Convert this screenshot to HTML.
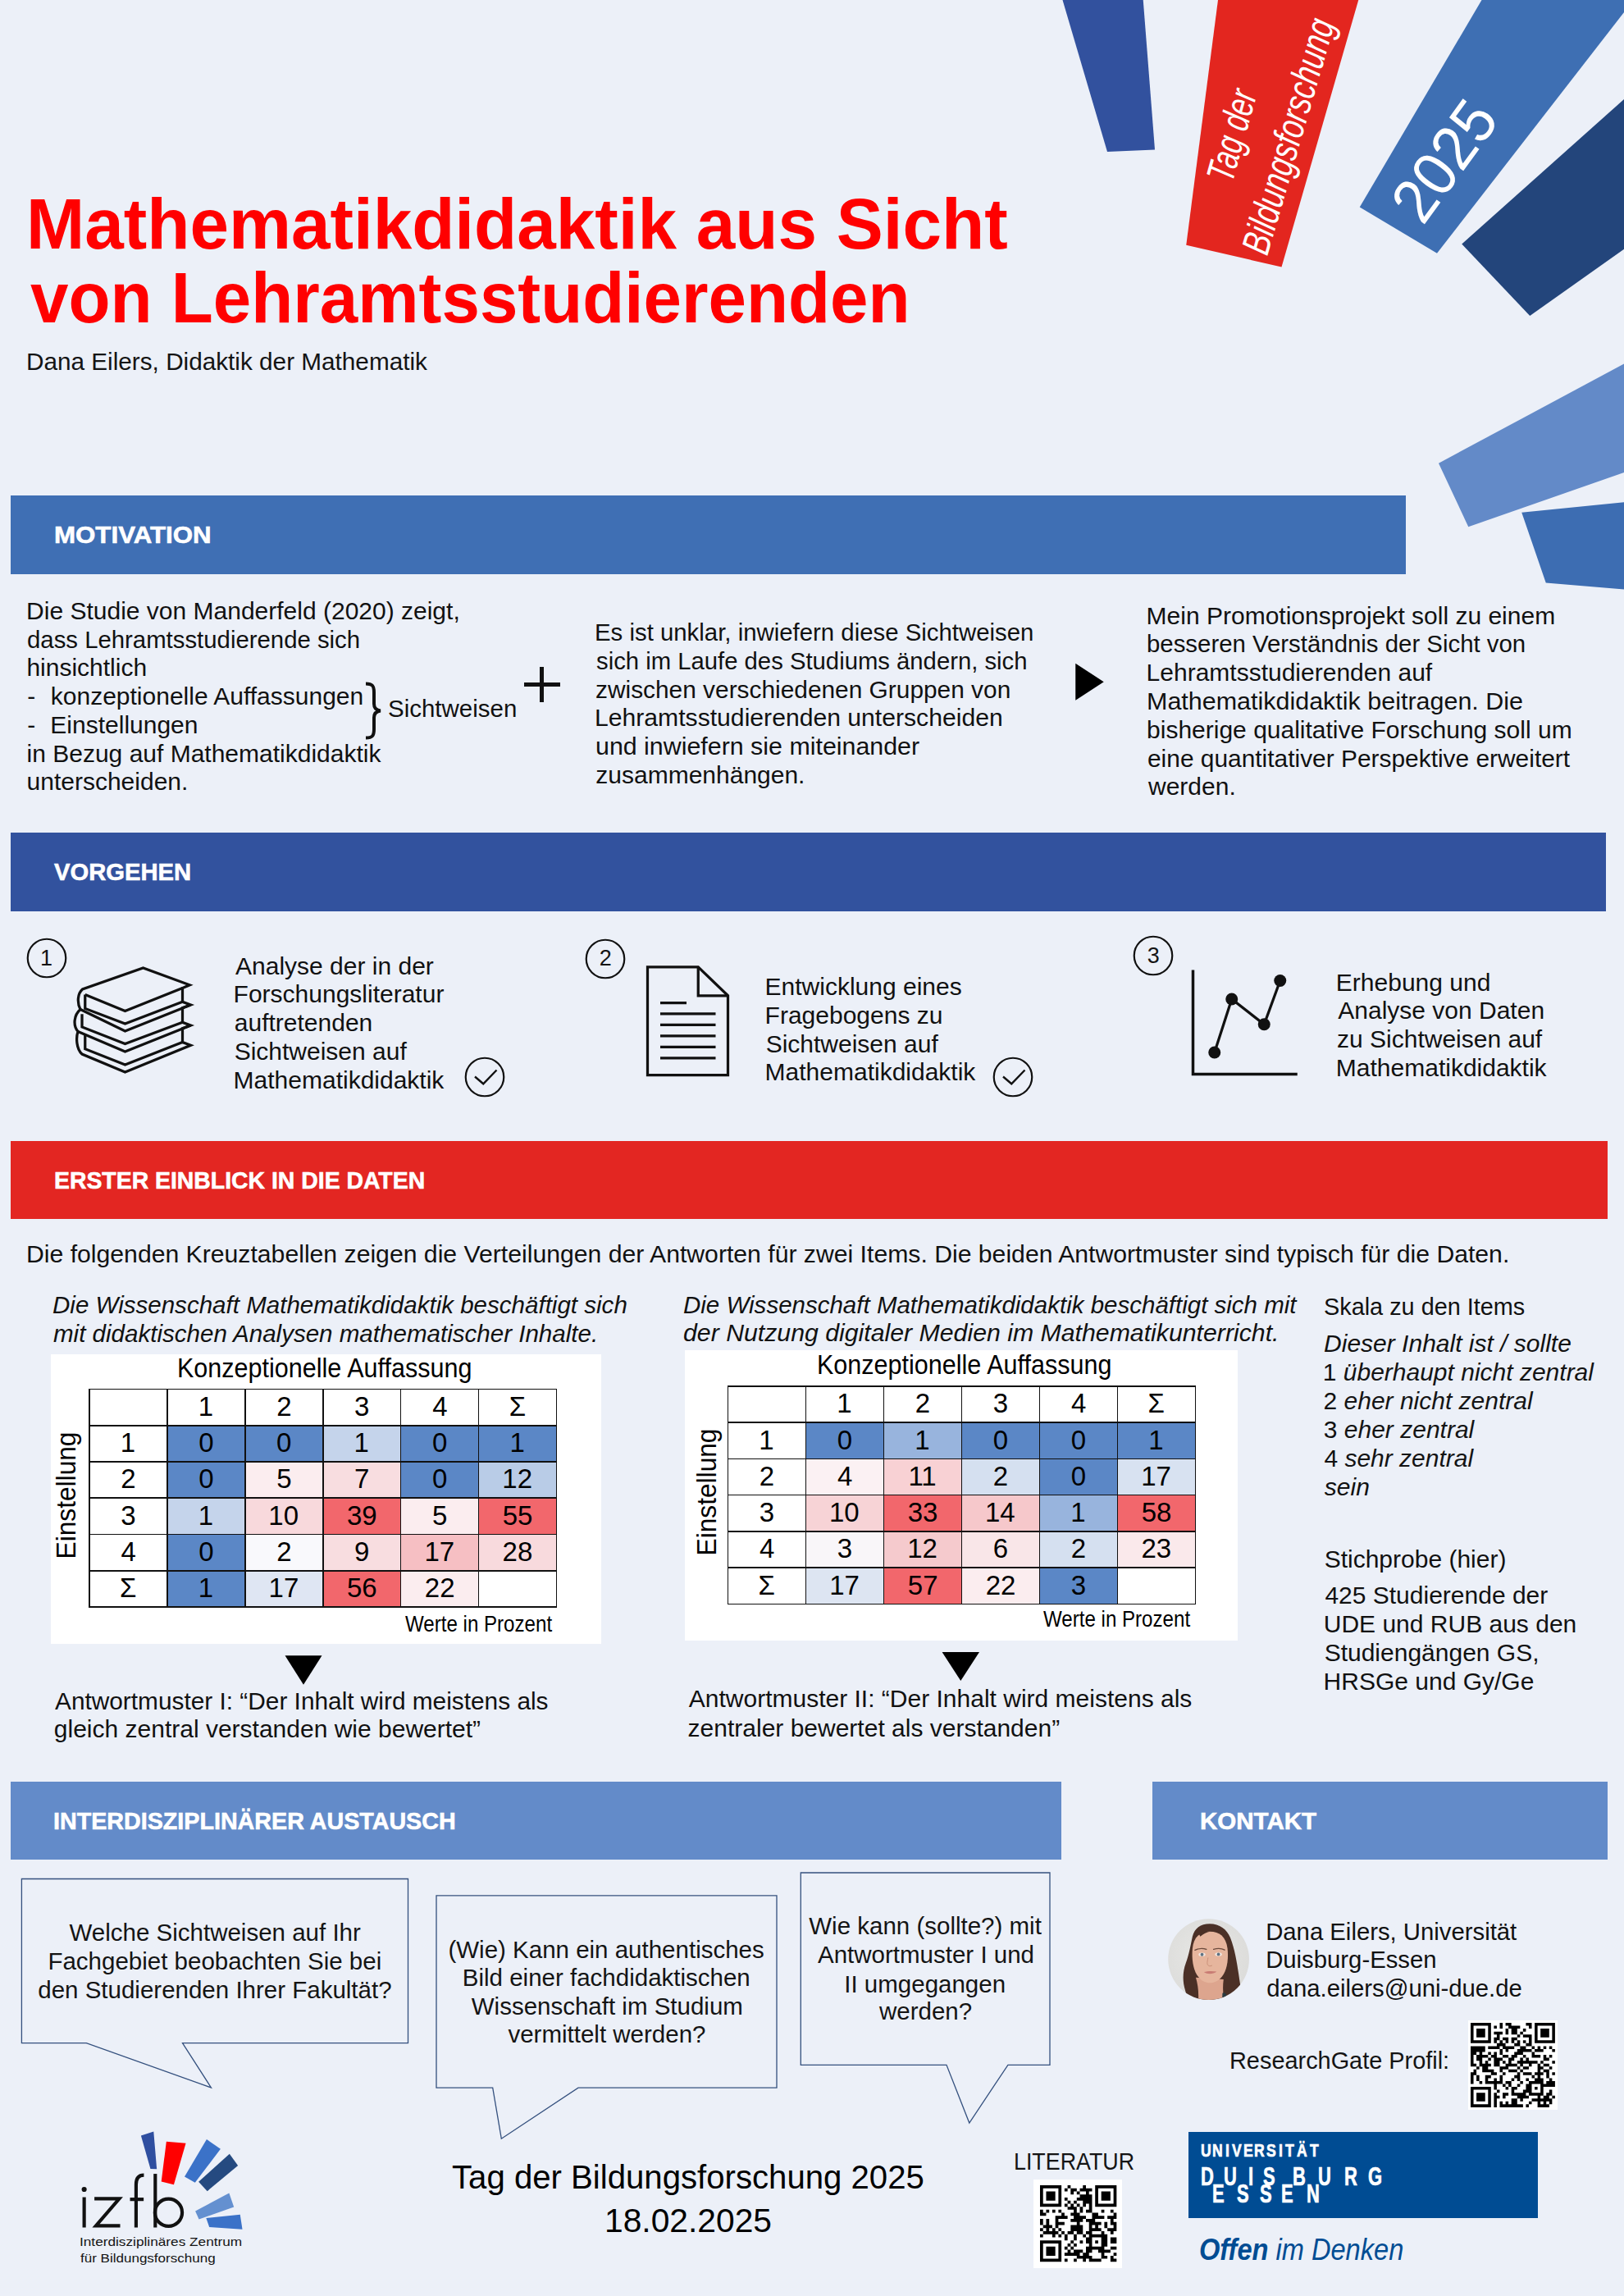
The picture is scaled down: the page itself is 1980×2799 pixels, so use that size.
<!DOCTYPE html>
<html><head><meta charset="utf-8"><title>Poster</title>
<style>
html,body{margin:0;padding:0;}
body{width:1980px;height:2799px;position:relative;overflow:hidden;background:#ECF0F8;font-family:"Liberation Sans",sans-serif;color:#141414;}
.t{position:absolute;white-space:nowrap;line-height:1;}
.r{position:absolute;}
.abs{position:absolute;overflow:visible;}
</style></head><body>
<svg class="abs" style="left:0;top:0" width="1980" height="760" viewBox="0 0 1980 760"><polygon fill="#32519E" points="1295.5,0 1393.75,0 1408,182.5 1350,185"/><polygon fill="#E3261F" points="1485,0 1656.25,0 1562.5,325.5 1446.25,298.75"/><polygon fill="#3E6FB3" points="1806.5,0 1980,0 1980,15 1752,308.75 1657.75,252.5"/><polygon fill="#23457B" points="1782.25,297.5 1980,121 1980,303.75 1865.25,385"/><polygon fill="#638AC8" points="1754,564.75 1980,443.5 1980,576 1790.25,642.25"/><polygon fill="#3D6DB2" points="1855.25,624.75 1980,612.25 1980,718.5 1884.75,710.5"/></svg>
<div class="abs" style="left:1501.5px;top:164.5px;width:0;height:0"><div style="position:absolute;left:0;top:0;transform:rotate(-74.5deg) scaleX(0.71) translate(-50%,-50%);transform-origin:0 0;white-space:nowrap;font-size:48px;line-height:48px;color:#fff;font-weight:normal;font-style:italic">Tag der</div></div>
<div class="abs" style="left:1570.5px;top:165.5px;width:0;height:0"><div style="position:absolute;left:0;top:0;transform:rotate(-73.8deg) scaleX(0.75) translate(-50%,-50%);transform-origin:0 0;white-space:nowrap;font-size:48px;line-height:48px;color:#fff;font-weight:normal;font-style:italic">Bildungsforschung</div></div>
<div class="abs" style="left:1761px;top:196px;width:0;height:0"><div style="position:absolute;left:0;top:0;transform:rotate(-54deg) scaleX(0.95) translate(-50%,-50%);transform-origin:0 0;white-space:nowrap;font-size:76px;line-height:76px;color:#fff;font-weight:normal;font-style:normal">2025</div></div>
<div class="t" style="left:31.95px;top:228.85px;font-size:87px;font-weight:bold;font-style:normal;color:#FF0000;transform:scaleX(0.9823);transform-origin:0 0;">Mathematikdidaktik aus Sicht</div>
<div class="t" style="left:36.58px;top:318.85px;font-size:87px;font-weight:bold;font-style:normal;color:#FF0000;transform:scaleX(0.9604);transform-origin:0 0;">von Lehramtsstudierenden</div>
<div class="t" style="left:32.12px;top:425.53px;font-size:29.5px;font-weight:normal;font-style:normal;color:#141414;transform:scaleX(1.0074);transform-origin:0 0;">Dana Eilers, Didaktik der Mathematik</div>
<div class="r" style="left:13px;top:604px;width:1701.25px;height:96.25px;background:#3F6FB4"></div>
<div class="t" style="left:65.97px;top:637.44px;font-size:29.6px;font-weight:bold;font-style:normal;color:#fff;transform:scaleX(1.0566);transform-origin:0 0;-webkit-text-stroke:0.6px #fff;">MOTIVATION</div>
<div class="t" style="left:32.10px;top:730.11px;font-size:30px;font-weight:normal;font-style:normal;color:#111;">Die Studie von Manderfeld (2020) zeigt,</div>
<div class="t" style="left:33.33px;top:764.61px;font-size:30px;font-weight:normal;font-style:normal;color:#111;transform:scaleX(0.9780);transform-origin:0 0;">dass Lehramtsstudierende sich</div>
<div class="t" style="left:32.40px;top:799.11px;font-size:30px;font-weight:normal;font-style:normal;color:#111;">hinsichtlich</div>
<div class="t" style="left:33.15px;top:834.11px;font-size:30px;font-weight:normal;font-style:normal;color:#111;">-</div>
<div class="t" style="left:61.80px;top:834.11px;font-size:30px;font-weight:normal;font-style:normal;color:#111;">konzeptionelle Auffassungen</div>
<div class="t" style="left:33.15px;top:868.61px;font-size:30px;font-weight:normal;font-style:normal;color:#111;">-</div>
<div class="t" style="left:61.35px;top:868.61px;font-size:30px;font-weight:normal;font-style:normal;color:#111;">Einstellungen</div>
<div class="t" style="left:32.55px;top:904.11px;font-size:30px;font-weight:normal;font-style:normal;color:#111;">in Bezug auf Mathematikdidaktik</div>
<div class="t" style="left:32.55px;top:938.36px;font-size:30px;font-weight:normal;font-style:normal;color:#111;">unterscheiden.</div>
<svg class="abs" style="left:440px;top:828px" width="32" height="78" viewBox="0 0 32 78"><path d="M6,5.5 C14,5.5 16,8 16,16 L16,30 C16,35 19,38 24,38.5 C19,39 16,42 16,47 L16,61 C16,69 14,71.5 6,71.5" fill="none" stroke="#111" stroke-width="4"/></svg>
<div class="t" style="left:473.17px;top:849.11px;font-size:30px;font-weight:normal;font-style:normal;color:#111;transform:scaleX(0.9825);transform-origin:0 0;">Sichtweisen</div>
<div class="r" style="left:638.5px;top:832px;width:44.00px;height:5.00px;background:#111"></div>
<div class="r" style="left:658px;top:813px;width:5.00px;height:43.00px;background:#111"></div>
<div class="t" style="left:725.15px;top:756.36px;font-size:30px;font-weight:normal;font-style:normal;color:#111;transform:scaleX(0.9789);transform-origin:0 0;">Es ist unklar, inwiefern diese Sichtweisen</div>
<div class="t" style="left:726.62px;top:790.86px;font-size:30px;font-weight:normal;font-style:normal;color:#111;transform:scaleX(0.9757);transform-origin:0 0;">sich im Laufe des Studiums ändern, sich</div>
<div class="t" style="left:726.31px;top:825.86px;font-size:30px;font-weight:normal;font-style:normal;color:#111;transform:scaleX(0.9953);transform-origin:0 0;">zwischen verschiedenen Gruppen von</div>
<div class="t" style="left:725.09px;top:860.36px;font-size:30px;font-weight:normal;font-style:normal;color:#111;transform:scaleX(1.0048);transform-origin:0 0;">Lehramtsstudierenden unterscheiden</div>
<div class="t" style="left:725.53px;top:895.11px;font-size:30px;font-weight:normal;font-style:normal;color:#111;transform:scaleX(1.0125);transform-origin:0 0;">und inwiefern sie miteinander</div>
<div class="t" style="left:726.30px;top:929.61px;font-size:30px;font-weight:normal;font-style:normal;color:#111;">zusammenhängen.</div>
<svg class="abs" style="left:1300px;top:800px" width="60" height="60"><polygon points="11.25,8.75 45.75,31.25 11.25,53.75" fill="#000"/></svg>
<div class="t" style="left:1397.60px;top:735.86px;font-size:30px;font-weight:normal;font-style:normal;color:#111;">Mein Promotionsprojekt soll zu einem</div>
<div class="t" style="left:1398.09px;top:770.36px;font-size:30px;font-weight:normal;font-style:normal;color:#111;transform:scaleX(0.9793);transform-origin:0 0;">besseren Verständnis der Sicht von</div>
<div class="t" style="left:1397.60px;top:805.11px;font-size:30px;font-weight:normal;font-style:normal;color:#111;">Lehramtsstudierenden auf</div>
<div class="t" style="left:1397.56px;top:840.11px;font-size:30px;font-weight:normal;font-style:normal;color:#111;transform:scaleX(1.0157);transform-origin:0 0;">Mathematikdidaktik beitragen. Die</div>
<div class="t" style="left:1398.05px;top:874.61px;font-size:30px;font-weight:normal;font-style:normal;color:#111;">bisherige qualitative Forschung soll um</div>
<div class="t" style="left:1398.80px;top:909.61px;font-size:30px;font-weight:normal;font-style:normal;color:#111;transform:scaleX(0.9964);transform-origin:0 0;">eine quantitativer Perspektive erweitert</div>
<div class="t" style="left:1400.00px;top:944.11px;font-size:30px;font-weight:normal;font-style:normal;color:#111;">werden.</div>
<div class="r" style="left:13px;top:1014.8px;width:1944.60px;height:96.70px;background:#32529E"></div>
<div class="t" style="left:66.10px;top:1047.94px;font-size:29.6px;font-weight:bold;font-style:normal;color:#fff;transform:scaleX(0.9866);transform-origin:0 0;-webkit-text-stroke:0.6px #fff;">VORGEHEN</div>
<svg class="abs" style="left:27px;top:1138.25px" width="60" height="60"><circle cx="30" cy="30" r="23.25" fill="none" stroke="#111" stroke-width="2.2"/></svg>
<div class="t" style="left:49.10px;top:1154.89px;font-size:27px;font-weight:normal;font-style:normal;color:#141414;">1</div>
<svg class="abs" style="left:20px;top:1140px" width="406" height="190" viewBox="0 0 1624 760"><g fill="none" stroke="#111" stroke-width="13" stroke-linejoin="miter" stroke-miterlimit="3">
<path d="M530,668 L320,580 C292,555 290,500 300,470 C275,440 280,390 312,362 C295,330 298,285 322,264 L618,160 L845,243 L810,258 L810,325 L850,340 L810,355 L810,425 L850,440 L810,455 L810,522 L850,537 Z"/>
<path d="M335,290 L530,370 L810,258"/>
<path d="M335,290 L335,358 L530,432 L810,325"/>
<path d="M312,362 L530,468 L850,340"/>
<path d="M320,385 L320,448 L530,530 L810,425"/>
<path d="M300,470 L530,568 L850,440"/>
<path d="M335,485 L335,555 L530,632 L810,522"/>
</g></svg>
<div class="t" style="left:287.00px;top:1162.61px;font-size:30px;font-weight:normal;font-style:normal;color:#111;">Analyse der in der</div>
<div class="t" style="left:284.60px;top:1197.11px;font-size:30px;font-weight:normal;font-style:normal;color:#111;">Forschungsliteratur</div>
<div class="t" style="left:285.80px;top:1232.11px;font-size:30px;font-weight:normal;font-style:normal;color:#111;">auftretenden</div>
<div class="t" style="left:285.65px;top:1267.11px;font-size:30px;font-weight:normal;font-style:normal;color:#111;">Sichtweisen auf</div>
<div class="t" style="left:284.60px;top:1301.61px;font-size:30px;font-weight:normal;font-style:normal;color:#111;">Mathematikdidaktik</div>
<svg class="abs" style="left:561.25px;top:1283px" width="60" height="60"><circle cx="30" cy="30" r="23.25" fill="none" stroke="#111" stroke-width="2.2"/></svg>
<svg class="abs" style="left:561.25px;top:1283px" width="60" height="60"><polyline points="18,29.5 28.25,38.25 44.5,21.5" fill="none" stroke="#111" stroke-width="2.4"/></svg>
<svg class="abs" style="left:708.25px;top:1138.75px" width="60" height="60"><circle cx="30" cy="30" r="23.25" fill="none" stroke="#111" stroke-width="2.2"/></svg>
<div class="t" style="left:730.76px;top:1155.39px;font-size:27px;font-weight:normal;font-style:normal;color:#141414;">2</div>
<svg class="abs" style="left:700px;top:1140px" width="406" height="200" viewBox="0 0 1624 800"><g fill="none" stroke="#111" stroke-width="13">
<path d="M358,155 L605,155 L750,295 L750,682 L358,682 Z"/><path d="M605,155 L605,295 L750,295"/>
<path d="M420,330 L548,330 M420,383 L690,383 M420,437 L690,437 M420,491 L690,491 M420,545 L690,545 M420,599 L690,599"/>
</g></svg>
<div class="t" style="left:932.60px;top:1188.36px;font-size:30px;font-weight:normal;font-style:normal;color:#111;">Entwicklung eines</div>
<div class="t" style="left:932.60px;top:1222.86px;font-size:30px;font-weight:normal;font-style:normal;color:#111;">Fragebogens zu</div>
<div class="t" style="left:933.65px;top:1257.61px;font-size:30px;font-weight:normal;font-style:normal;color:#111;">Sichtweisen auf</div>
<div class="t" style="left:932.60px;top:1292.11px;font-size:30px;font-weight:normal;font-style:normal;color:#111;">Mathematikdidaktik</div>
<svg class="abs" style="left:1205px;top:1282.5px" width="60" height="60"><circle cx="30" cy="30" r="23.25" fill="none" stroke="#111" stroke-width="2.2"/></svg>
<svg class="abs" style="left:1205px;top:1282.5px" width="60" height="60"><polyline points="18,29.5 28.25,38.25 44.5,21.5" fill="none" stroke="#111" stroke-width="2.4"/></svg>
<svg class="abs" style="left:1376.25px;top:1135px" width="60" height="60"><circle cx="30" cy="30" r="23.25" fill="none" stroke="#111" stroke-width="2.2"/></svg>
<div class="t" style="left:1398.76px;top:1151.64px;font-size:27px;font-weight:normal;font-style:normal;color:#141414;">3</div>
<svg class="abs" style="left:1440px;top:1140px" width="406" height="200" viewBox="0 0 1624 800"><g stroke="#111" fill="none">
<path d="M58,170 L58,678 L567,678" stroke-width="14"/>
<path d="M163,572 L247,312 L405,435 L483,222" stroke-width="13"/></g>
<g fill="#111"><circle cx="163" cy="572" r="30"/><circle cx="247" cy="312" r="30"/><circle cx="405" cy="435" r="30"/><circle cx="483" cy="222" r="30"/></g></svg>
<div class="t" style="left:1628.85px;top:1182.61px;font-size:30px;font-weight:normal;font-style:normal;color:#111;">Erhebung und</div>
<div class="t" style="left:1631.25px;top:1217.11px;font-size:30px;font-weight:normal;font-style:normal;color:#111;">Analyse von Daten</div>
<div class="t" style="left:1630.05px;top:1252.11px;font-size:30px;font-weight:normal;font-style:normal;color:#111;">zu Sichtweisen auf</div>
<div class="t" style="left:1628.85px;top:1286.61px;font-size:30px;font-weight:normal;font-style:normal;color:#111;">Mathematikdidaktik</div>
<div class="r" style="left:13px;top:1390.8px;width:1946.70px;height:95.70px;background:#E32622"></div>
<div class="t" style="left:65.65px;top:1423.94px;font-size:29.6px;font-weight:bold;font-style:normal;color:#fff;transform:scaleX(0.9593);transform-origin:0 0;-webkit-text-stroke:0.6px #fff;">ERSTER EINBLICK IN DIE DATEN</div>
<div class="t" style="left:31.59px;top:1513.61px;font-size:30px;font-weight:normal;font-style:normal;color:#111;transform:scaleX(1.0059);transform-origin:0 0;">Die folgenden Kreuztabellen zeigen die Verteilungen der Antworten für zwei Items. Die beiden Antwortmuster sind typisch für die Daten.</div>
<div class="t" style="left:64.11px;top:1576.11px;font-size:30px;font-weight:normal;font-style:italic;color:#111;transform:scaleX(0.9847);transform-origin:0 0;">Die Wissenschaft Mathematikdidaktik beschäftigt sich</div>
<div class="t" style="left:64.56px;top:1611.11px;font-size:30px;font-weight:normal;font-style:italic;color:#111;transform:scaleX(0.9850);transform-origin:0 0;">mit didaktischen Analysen mathematischer Inhalte.</div>
<div class="t" style="left:832.81px;top:1575.61px;font-size:30px;font-weight:normal;font-style:italic;color:#111;transform:scaleX(0.9836);transform-origin:0 0;">Die Wissenschaft Mathematikdidaktik beschäftigt sich mit</div>
<div class="t" style="left:832.64px;top:1610.40px;font-size:30px;font-weight:normal;font-style:italic;color:#111;transform:scaleX(1.0085);transform-origin:0 0;">der Nutzung digitaler Medien im Mathematikunterricht.</div>
<div class="r" style="left:62px;top:1650.5px;width:671.00px;height:353.25px;background:#FFFFFF"></div>
<div class="r" style="left:203.92px;top:1737.75px;width:94.92px;height:44.25px;background:#5B87C6"></div>
<div class="r" style="left:298.83px;top:1737.75px;width:94.92px;height:44.25px;background:#5B87C6"></div>
<div class="r" style="left:393.75px;top:1737.75px;width:94.92px;height:44.25px;background:#C5D4EB"></div>
<div class="r" style="left:488.67px;top:1737.75px;width:94.92px;height:44.25px;background:#5B87C6"></div>
<div class="r" style="left:583.58px;top:1737.75px;width:94.92px;height:44.25px;background:#5B87C6"></div>
<div class="r" style="left:203.92px;top:1782.00px;width:94.92px;height:44.25px;background:#5B87C6"></div>
<div class="r" style="left:298.83px;top:1782.00px;width:94.92px;height:44.25px;background:#FBEDEF"></div>
<div class="r" style="left:393.75px;top:1782.00px;width:94.92px;height:44.25px;background:#F8DDE0"></div>
<div class="r" style="left:488.67px;top:1782.00px;width:94.92px;height:44.25px;background:#5B87C6"></div>
<div class="r" style="left:583.58px;top:1782.00px;width:94.92px;height:44.25px;background:#B9CCE7"></div>
<div class="r" style="left:203.92px;top:1826.25px;width:94.92px;height:44.25px;background:#C5D4EB"></div>
<div class="r" style="left:298.83px;top:1826.25px;width:94.92px;height:44.25px;background:#F8D9DC"></div>
<div class="r" style="left:393.75px;top:1826.25px;width:94.92px;height:44.25px;background:#F2676C"></div>
<div class="r" style="left:488.67px;top:1826.25px;width:94.92px;height:44.25px;background:#FBEDEF"></div>
<div class="r" style="left:583.58px;top:1826.25px;width:94.92px;height:44.25px;background:#F2676C"></div>
<div class="r" style="left:203.92px;top:1870.50px;width:94.92px;height:44.25px;background:#5B87C6"></div>
<div class="r" style="left:298.83px;top:1870.50px;width:94.92px;height:44.25px;background:#F9F9FC"></div>
<div class="r" style="left:393.75px;top:1870.50px;width:94.92px;height:44.25px;background:#F8DDE0"></div>
<div class="r" style="left:488.67px;top:1870.50px;width:94.92px;height:44.25px;background:#F6BFC3"></div>
<div class="r" style="left:583.58px;top:1870.50px;width:94.92px;height:44.25px;background:#F8DADD"></div>
<div class="r" style="left:203.92px;top:1914.75px;width:94.92px;height:44.25px;background:#5B87C6"></div>
<div class="r" style="left:298.83px;top:1914.75px;width:94.92px;height:44.25px;background:#DFE6F3"></div>
<div class="r" style="left:393.75px;top:1914.75px;width:94.92px;height:44.25px;background:#F2676C"></div>
<div class="r" style="left:488.67px;top:1914.75px;width:94.92px;height:44.25px;background:#FBEDEF"></div>
<div class="r" style="left:583.58px;top:1914.75px;width:94.92px;height:44.25px;background:#FFFFFF"></div>
<div class="r" style="left:108.20px;top:1692.70px;width:1.6px;height:267.10px;background:#111"></div>
<div class="r" style="left:203.12px;top:1692.70px;width:1.6px;height:267.10px;background:#111"></div>
<div class="r" style="left:298.03px;top:1692.70px;width:1.6px;height:267.10px;background:#111"></div>
<div class="r" style="left:392.95px;top:1692.70px;width:1.6px;height:267.10px;background:#111"></div>
<div class="r" style="left:487.87px;top:1692.70px;width:1.6px;height:267.10px;background:#111"></div>
<div class="r" style="left:582.78px;top:1692.70px;width:1.6px;height:267.10px;background:#111"></div>
<div class="r" style="left:677.70px;top:1692.70px;width:1.6px;height:267.10px;background:#111"></div>
<div class="r" style="left:108.20px;top:1692.70px;width:571.10px;height:1.6px;background:#111"></div>
<div class="r" style="left:108.20px;top:1736.95px;width:571.10px;height:1.6px;background:#111"></div>
<div class="r" style="left:108.20px;top:1781.20px;width:571.10px;height:1.6px;background:#111"></div>
<div class="r" style="left:108.20px;top:1825.45px;width:571.10px;height:1.6px;background:#111"></div>
<div class="r" style="left:108.20px;top:1869.70px;width:571.10px;height:1.6px;background:#111"></div>
<div class="r" style="left:108.20px;top:1913.95px;width:571.10px;height:1.6px;background:#111"></div>
<div class="r" style="left:108.20px;top:1958.20px;width:571.10px;height:1.6px;background:#111"></div>
<div class="t" style="left:241.72px;top:1697.99px;font-size:33px;font-weight:normal;font-style:normal;color:#000;">1</div>
<div class="t" style="left:337.13px;top:1697.99px;font-size:33px;font-weight:normal;font-style:normal;color:#000;">2</div>
<div class="t" style="left:432.05px;top:1697.99px;font-size:33px;font-weight:normal;font-style:normal;color:#000;">3</div>
<div class="t" style="left:527.13px;top:1697.99px;font-size:33px;font-weight:normal;font-style:normal;color:#000;">4</div>
<div class="t" style="left:620.65px;top:1697.99px;font-size:33px;font-weight:normal;font-style:normal;color:#000;">Σ</div>
<div class="t" style="left:146.81px;top:1742.24px;font-size:33px;font-weight:normal;font-style:normal;color:#000;">1</div>
<div class="t" style="left:242.14px;top:1742.24px;font-size:33px;font-weight:normal;font-style:normal;color:#000;">0</div>
<div class="t" style="left:337.05px;top:1742.24px;font-size:33px;font-weight:normal;font-style:normal;color:#000;">0</div>
<div class="t" style="left:431.56px;top:1742.24px;font-size:33px;font-weight:normal;font-style:normal;color:#000;">1</div>
<div class="t" style="left:526.88px;top:1742.24px;font-size:33px;font-weight:normal;font-style:normal;color:#000;">0</div>
<div class="t" style="left:621.39px;top:1742.24px;font-size:33px;font-weight:normal;font-style:normal;color:#000;">1</div>
<div class="t" style="left:147.30px;top:1786.49px;font-size:33px;font-weight:normal;font-style:normal;color:#000;">2</div>
<div class="t" style="left:242.14px;top:1786.49px;font-size:33px;font-weight:normal;font-style:normal;color:#000;">0</div>
<div class="t" style="left:337.13px;top:1786.49px;font-size:33px;font-weight:normal;font-style:normal;color:#000;">5</div>
<div class="t" style="left:432.05px;top:1786.49px;font-size:33px;font-weight:normal;font-style:normal;color:#000;">7</div>
<div class="t" style="left:526.88px;top:1786.49px;font-size:33px;font-weight:normal;font-style:normal;color:#000;">0</div>
<div class="t" style="left:612.31px;top:1786.49px;font-size:33px;font-weight:normal;font-style:normal;color:#000;">12</div>
<div class="t" style="left:147.30px;top:1830.74px;font-size:33px;font-weight:normal;font-style:normal;color:#000;">3</div>
<div class="t" style="left:241.72px;top:1830.74px;font-size:33px;font-weight:normal;font-style:normal;color:#000;">1</div>
<div class="t" style="left:327.32px;top:1830.74px;font-size:33px;font-weight:normal;font-style:normal;color:#000;">10</div>
<div class="t" style="left:422.98px;top:1830.74px;font-size:33px;font-weight:normal;font-style:normal;color:#000;">39</div>
<div class="t" style="left:526.97px;top:1830.74px;font-size:33px;font-weight:normal;font-style:normal;color:#000;">5</div>
<div class="t" style="left:612.73px;top:1830.74px;font-size:33px;font-weight:normal;font-style:normal;color:#000;">55</div>
<div class="t" style="left:147.47px;top:1874.99px;font-size:33px;font-weight:normal;font-style:normal;color:#000;">4</div>
<div class="t" style="left:242.14px;top:1874.99px;font-size:33px;font-weight:normal;font-style:normal;color:#000;">0</div>
<div class="t" style="left:337.13px;top:1874.99px;font-size:33px;font-weight:normal;font-style:normal;color:#000;">2</div>
<div class="t" style="left:432.05px;top:1874.99px;font-size:33px;font-weight:normal;font-style:normal;color:#000;">9</div>
<div class="t" style="left:517.40px;top:1874.99px;font-size:33px;font-weight:normal;font-style:normal;color:#000;">17</div>
<div class="t" style="left:612.56px;top:1874.99px;font-size:33px;font-weight:normal;font-style:normal;color:#000;">28</div>
<div class="t" style="left:146.06px;top:1919.24px;font-size:33px;font-weight:normal;font-style:normal;color:#000;">Σ</div>
<div class="t" style="left:241.72px;top:1919.24px;font-size:33px;font-weight:normal;font-style:normal;color:#000;">1</div>
<div class="t" style="left:327.56px;top:1919.24px;font-size:33px;font-weight:normal;font-style:normal;color:#000;">17</div>
<div class="t" style="left:422.89px;top:1919.24px;font-size:33px;font-weight:normal;font-style:normal;color:#000;">56</div>
<div class="t" style="left:517.81px;top:1919.24px;font-size:33px;font-weight:normal;font-style:normal;color:#000;">22</div>
<div class="t" style="left:215.56px;top:1650.89px;font-size:33.8px;font-weight:normal;font-style:normal;color:#000;transform:scaleX(0.9035);transform-origin:0 0;">Konzeptionelle Auffassung</div>
<div class="abs" style="left:79.75px;top:1823.35px;width:0;height:0"><div style="position:absolute;left:0;top:0;transform:rotate(-90deg) scaleX(0.96) translate(-50%,-50%);transform-origin:0 0;white-space:nowrap;font-size:33px;line-height:33px;color:#000">Einstellung</div></div>
<div class="t" style="left:493.63px;top:1965.55px;font-size:28px;font-weight:normal;font-style:normal;color:#000;transform:scaleX(0.8609);transform-origin:0 0;">Werte in Prozent</div>
<div class="r" style="left:835px;top:1646.25px;width:673.50px;height:353.75px;background:#FFFFFF"></div>
<div class="r" style="left:982.50px;top:1734.23px;width:95.00px;height:44.23px;background:#5B87C6"></div>
<div class="r" style="left:1077.50px;top:1734.23px;width:95.00px;height:44.23px;background:#98B4DD"></div>
<div class="r" style="left:1172.50px;top:1734.23px;width:95.00px;height:44.23px;background:#5B87C6"></div>
<div class="r" style="left:1267.50px;top:1734.23px;width:95.00px;height:44.23px;background:#5B87C6"></div>
<div class="r" style="left:1362.50px;top:1734.23px;width:95.00px;height:44.23px;background:#5B87C6"></div>
<div class="r" style="left:982.50px;top:1778.47px;width:95.00px;height:44.23px;background:#FBF1F3"></div>
<div class="r" style="left:1077.50px;top:1778.47px;width:95.00px;height:44.23px;background:#F8D1D4"></div>
<div class="r" style="left:1172.50px;top:1778.47px;width:95.00px;height:44.23px;background:#D5E0F0"></div>
<div class="r" style="left:1267.50px;top:1778.47px;width:95.00px;height:44.23px;background:#5B87C6"></div>
<div class="r" style="left:1362.50px;top:1778.47px;width:95.00px;height:44.23px;background:#D8E2F1"></div>
<div class="r" style="left:982.50px;top:1822.70px;width:95.00px;height:44.23px;background:#F7D3D6"></div>
<div class="r" style="left:1077.50px;top:1822.70px;width:95.00px;height:44.23px;background:#F2676C"></div>
<div class="r" style="left:1172.50px;top:1822.70px;width:95.00px;height:44.23px;background:#F6C8CB"></div>
<div class="r" style="left:1267.50px;top:1822.70px;width:95.00px;height:44.23px;background:#98B4DD"></div>
<div class="r" style="left:1362.50px;top:1822.70px;width:95.00px;height:44.23px;background:#F2676C"></div>
<div class="r" style="left:982.50px;top:1866.93px;width:95.00px;height:44.23px;background:#F9F6F9"></div>
<div class="r" style="left:1077.50px;top:1866.93px;width:95.00px;height:44.23px;background:#F5CACD"></div>
<div class="r" style="left:1172.50px;top:1866.93px;width:95.00px;height:44.23px;background:#F9E6E8"></div>
<div class="r" style="left:1267.50px;top:1866.93px;width:95.00px;height:44.23px;background:#D5E0F0"></div>
<div class="r" style="left:1362.50px;top:1866.93px;width:95.00px;height:44.23px;background:#FAE9EB"></div>
<div class="r" style="left:982.50px;top:1911.17px;width:95.00px;height:44.23px;background:#DDE5F2"></div>
<div class="r" style="left:1077.50px;top:1911.17px;width:95.00px;height:44.23px;background:#F2676C"></div>
<div class="r" style="left:1172.50px;top:1911.17px;width:95.00px;height:44.23px;background:#FBEDEF"></div>
<div class="r" style="left:1267.50px;top:1911.17px;width:95.00px;height:44.23px;background:#5B87C6"></div>
<div class="r" style="left:1362.50px;top:1911.17px;width:95.00px;height:44.23px;background:#FFFFFF"></div>
<div class="r" style="left:886.70px;top:1689.20px;width:1.6px;height:267.00px;background:#111"></div>
<div class="r" style="left:981.70px;top:1689.20px;width:1.6px;height:267.00px;background:#111"></div>
<div class="r" style="left:1076.70px;top:1689.20px;width:1.6px;height:267.00px;background:#111"></div>
<div class="r" style="left:1171.70px;top:1689.20px;width:1.6px;height:267.00px;background:#111"></div>
<div class="r" style="left:1266.70px;top:1689.20px;width:1.6px;height:267.00px;background:#111"></div>
<div class="r" style="left:1361.70px;top:1689.20px;width:1.6px;height:267.00px;background:#111"></div>
<div class="r" style="left:1456.70px;top:1689.20px;width:1.6px;height:267.00px;background:#111"></div>
<div class="r" style="left:886.70px;top:1689.20px;width:571.60px;height:1.6px;background:#111"></div>
<div class="r" style="left:886.70px;top:1733.43px;width:571.60px;height:1.6px;background:#111"></div>
<div class="r" style="left:886.70px;top:1777.67px;width:571.60px;height:1.6px;background:#111"></div>
<div class="r" style="left:886.70px;top:1821.90px;width:571.60px;height:1.6px;background:#111"></div>
<div class="r" style="left:886.70px;top:1866.13px;width:571.60px;height:1.6px;background:#111"></div>
<div class="r" style="left:886.70px;top:1910.37px;width:571.60px;height:1.6px;background:#111"></div>
<div class="r" style="left:886.70px;top:1954.60px;width:571.60px;height:1.6px;background:#111"></div>
<div class="t" style="left:1020.35px;top:1694.48px;font-size:33px;font-weight:normal;font-style:normal;color:#000;">1</div>
<div class="t" style="left:1115.84px;top:1694.48px;font-size:33px;font-weight:normal;font-style:normal;color:#000;">2</div>
<div class="t" style="left:1210.84px;top:1694.48px;font-size:33px;font-weight:normal;font-style:normal;color:#000;">3</div>
<div class="t" style="left:1306.01px;top:1694.48px;font-size:33px;font-weight:normal;font-style:normal;color:#000;">4</div>
<div class="t" style="left:1399.61px;top:1694.48px;font-size:33px;font-weight:normal;font-style:normal;color:#000;">Σ</div>
<div class="t" style="left:925.35px;top:1738.72px;font-size:33px;font-weight:normal;font-style:normal;color:#000;">1</div>
<div class="t" style="left:1020.76px;top:1738.72px;font-size:33px;font-weight:normal;font-style:normal;color:#000;">0</div>
<div class="t" style="left:1115.35px;top:1738.72px;font-size:33px;font-weight:normal;font-style:normal;color:#000;">1</div>
<div class="t" style="left:1210.76px;top:1738.72px;font-size:33px;font-weight:normal;font-style:normal;color:#000;">0</div>
<div class="t" style="left:1305.76px;top:1738.72px;font-size:33px;font-weight:normal;font-style:normal;color:#000;">0</div>
<div class="t" style="left:1400.35px;top:1738.72px;font-size:33px;font-weight:normal;font-style:normal;color:#000;">1</div>
<div class="t" style="left:925.84px;top:1782.95px;font-size:33px;font-weight:normal;font-style:normal;color:#000;">2</div>
<div class="t" style="left:1021.01px;top:1782.95px;font-size:33px;font-weight:normal;font-style:normal;color:#000;">4</div>
<div class="t" style="left:1107.43px;top:1782.95px;font-size:33px;font-weight:normal;font-style:normal;color:#000;">11</div>
<div class="t" style="left:1210.84px;top:1782.95px;font-size:33px;font-weight:normal;font-style:normal;color:#000;">2</div>
<div class="t" style="left:1305.76px;top:1782.95px;font-size:33px;font-weight:normal;font-style:normal;color:#000;">0</div>
<div class="t" style="left:1391.27px;top:1782.95px;font-size:33px;font-weight:normal;font-style:normal;color:#000;">17</div>
<div class="t" style="left:925.84px;top:1827.18px;font-size:33px;font-weight:normal;font-style:normal;color:#000;">3</div>
<div class="t" style="left:1011.02px;top:1827.18px;font-size:33px;font-weight:normal;font-style:normal;color:#000;">10</div>
<div class="t" style="left:1106.68px;top:1827.18px;font-size:33px;font-weight:normal;font-style:normal;color:#000;">33</div>
<div class="t" style="left:1200.94px;top:1827.18px;font-size:33px;font-weight:normal;font-style:normal;color:#000;">14</div>
<div class="t" style="left:1305.35px;top:1827.18px;font-size:33px;font-weight:normal;font-style:normal;color:#000;">1</div>
<div class="t" style="left:1391.68px;top:1827.18px;font-size:33px;font-weight:normal;font-style:normal;color:#000;">58</div>
<div class="t" style="left:926.01px;top:1871.42px;font-size:33px;font-weight:normal;font-style:normal;color:#000;">4</div>
<div class="t" style="left:1020.84px;top:1871.42px;font-size:33px;font-weight:normal;font-style:normal;color:#000;">3</div>
<div class="t" style="left:1106.27px;top:1871.42px;font-size:33px;font-weight:normal;font-style:normal;color:#000;">12</div>
<div class="t" style="left:1210.68px;top:1871.42px;font-size:33px;font-weight:normal;font-style:normal;color:#000;">6</div>
<div class="t" style="left:1305.84px;top:1871.42px;font-size:33px;font-weight:normal;font-style:normal;color:#000;">2</div>
<div class="t" style="left:1391.52px;top:1871.42px;font-size:33px;font-weight:normal;font-style:normal;color:#000;">23</div>
<div class="t" style="left:924.61px;top:1915.65px;font-size:33px;font-weight:normal;font-style:normal;color:#000;">Σ</div>
<div class="t" style="left:1011.27px;top:1915.65px;font-size:33px;font-weight:normal;font-style:normal;color:#000;">17</div>
<div class="t" style="left:1106.85px;top:1915.65px;font-size:33px;font-weight:normal;font-style:normal;color:#000;">57</div>
<div class="t" style="left:1201.68px;top:1915.65px;font-size:33px;font-weight:normal;font-style:normal;color:#000;">22</div>
<div class="t" style="left:1305.84px;top:1915.65px;font-size:33px;font-weight:normal;font-style:normal;color:#000;">3</div>
<div class="t" style="left:995.56px;top:1646.89px;font-size:33.8px;font-weight:normal;font-style:normal;color:#000;transform:scaleX(0.9035);transform-origin:0 0;">Konzeptionelle Auffassung</div>
<div class="abs" style="left:860.5px;top:1819.0px;width:0;height:0"><div style="position:absolute;left:0;top:0;transform:rotate(-90deg) scaleX(0.96) translate(-50%,-50%);transform-origin:0 0;white-space:nowrap;font-size:33px;line-height:33px;color:#000">Einstellung</div></div>
<div class="t" style="left:1272.13px;top:1959.80px;font-size:28px;font-weight:normal;font-style:normal;color:#000;transform:scaleX(0.8609);transform-origin:0 0;">Werte in Prozent</div>
<svg class="abs" style="left:340px;top:2010px" width="60" height="50"><polygon points="7.5,8.25 52.5,8.25 30,43.75" fill="#000"/></svg>
<svg class="abs" style="left:1140px;top:2006px" width="60" height="50"><polygon points="8.6,8 54,8 31.3,43" fill="#000"/></svg>
<div class="t" style="left:67.00px;top:2058.86px;font-size:30px;font-weight:normal;font-style:normal;color:#111;transform:scaleX(0.9939);transform-origin:0 0;">Antwortmuster I: “Der Inhalt wird meistens als</div>
<div class="t" style="left:65.80px;top:2093.36px;font-size:30px;font-weight:normal;font-style:normal;color:#111;">gleich zentral verstanden wie bewertet”</div>
<div class="t" style="left:839.80px;top:2056.41px;font-size:30px;font-weight:normal;font-style:normal;color:#111;">Antwortmuster II: “Der Inhalt wird meistens als</div>
<div class="t" style="left:838.60px;top:2091.51px;font-size:30px;font-weight:normal;font-style:normal;color:#111;">zentraler bewertet als verstanden”</div>
<div class="t" style="left:1613.70px;top:1577.61px;font-size:30px;font-weight:normal;font-style:normal;color:#111;transform:scaleX(0.9614);transform-origin:0 0;">Skala zu den Items</div>
<div class="t" style="left:1614.10px;top:1622.61px;font-size:30px;font-weight:normal;font-style:italic;color:#111;">Dieser Inhalt ist / sollte</div>
<div class="t" style="left:1612.75px;top:1657.61px;font-size:30px;font-weight:normal;font-style:normal;color:#111;">1</div>
<div class="t" style="left:1629.44px;top:1657.61px;font-size:30px;font-style:italic;color:#141414">&nbsp;überhaupt nicht zentral</div>
<div class="t" style="left:1613.50px;top:1692.61px;font-size:30px;font-weight:normal;font-style:normal;color:#111;">2</div>
<div class="t" style="left:1630.19px;top:1692.61px;font-size:30px;font-style:italic;color:#141414">&nbsp;eher nicht zentral</div>
<div class="t" style="left:1613.80px;top:1727.61px;font-size:30px;font-weight:normal;font-style:normal;color:#111;">3</div>
<div class="t" style="left:1630.49px;top:1727.61px;font-size:30px;font-style:italic;color:#141414">&nbsp;eher zentral</div>
<div class="t" style="left:1614.40px;top:1762.61px;font-size:30px;font-weight:normal;font-style:normal;color:#111;">4</div>
<div class="t" style="left:1631.09px;top:1762.61px;font-size:30px;font-style:italic;color:#141414">&nbsp;sehr zentral</div>
<div class="t" style="left:1614.85px;top:1797.61px;font-size:30px;font-weight:normal;font-style:italic;color:#111;">sein</div>
<div class="t" style="left:1614.65px;top:1885.61px;font-size:30px;font-weight:normal;font-style:normal;color:#111;">Stichprobe (hier)</div>
<div class="t" style="left:1615.40px;top:1930.11px;font-size:30px;font-weight:normal;font-style:normal;color:#111;">425 Studierende der</div>
<div class="t" style="left:1613.75px;top:1964.61px;font-size:30px;font-weight:normal;font-style:normal;color:#111;">UDE und RUB aus den</div>
<div class="t" style="left:1614.65px;top:1999.61px;font-size:30px;font-weight:normal;font-style:normal;color:#111;">Studiengängen GS,</div>
<div class="t" style="left:1613.60px;top:2034.61px;font-size:30px;font-weight:normal;font-style:normal;color:#111;">HRSGe und Gy/Ge</div>
<div class="r" style="left:13.2px;top:2172.4px;width:1280.40px;height:94.40px;background:#638BC9"></div>
<div class="t" style="left:65.34px;top:2205.34px;font-size:29.6px;font-weight:bold;font-style:normal;color:#fff;transform:scaleX(0.9689);transform-origin:0 0;-webkit-text-stroke:0.6px #fff;">INTERDISZIPLINÄRER AUSTAUSCH</div>
<div class="r" style="left:1405.4px;top:2172.4px;width:555.00px;height:94.40px;background:#638BC9"></div>
<div class="t" style="left:1462.58px;top:2205.04px;font-size:29.6px;font-weight:bold;font-style:normal;color:#fff;transform:scaleX(0.9978);transform-origin:0 0;-webkit-text-stroke:0.6px #fff;">KONTAKT</div>
<svg class="abs" style="left:0;top:0" width="1980" height="2799"><polygon points="26.4,2290.5 497.5,2290.5 497.5,2490.6 222.5,2490.6 257.4,2545 105.3,2490.6 26.4,2490.6" fill="none" stroke="#34507E" stroke-width="1.3"/></svg>
<div class="t" style="left:84.56px;top:2341.03px;font-size:29.5px;font-weight:normal;font-style:normal;color:#141414;">Welche Sichtweisen auf Ihr</div>
<div class="t" style="left:58.45px;top:2376.33px;font-size:29.5px;font-weight:normal;font-style:normal;color:#141414;">Fachgebiet beobachten Sie bei</div>
<div class="t" style="left:46.28px;top:2411.23px;font-size:29.5px;font-weight:normal;font-style:normal;color:#141414;">den Studierenden Ihrer Fakultät?</div>
<svg class="abs" style="left:0;top:0" width="1980" height="2799"><polygon points="532,2310.8 947,2310.8 947,2545.2 705,2545.2 611.3,2607.2 600.7,2545.2 532,2545.2" fill="none" stroke="#34507E" stroke-width="1.3"/></svg>
<div class="t" style="left:546.42px;top:2361.73px;font-size:29.5px;font-weight:normal;font-style:normal;color:#141414;">(Wie) Kann ein authentisches</div>
<div class="t" style="left:563.83px;top:2396.33px;font-size:29.5px;font-weight:normal;font-style:normal;color:#141414;">Bild einer fachdidaktischen</div>
<div class="t" style="left:574.74px;top:2430.93px;font-size:29.5px;font-weight:normal;font-style:normal;color:#141414;">Wissenschaft im Studium</div>
<div class="t" style="left:619.44px;top:2464.53px;font-size:29.5px;font-weight:normal;font-style:normal;color:#141414;">vermittelt werden?</div>
<svg class="abs" style="left:0;top:0" width="1980" height="2799"><polygon points="976.3,2283 1280,2283 1280,2517.3 1228.9,2517.3 1181.8,2588 1154,2517.3 976.3,2517.3" fill="none" stroke="#34507E" stroke-width="1.3"/></svg>
<div class="t" style="left:986.25px;top:2332.93px;font-size:29.5px;font-weight:normal;font-style:normal;color:#141414;">Wie kann (sollte?) mit</div>
<div class="t" style="left:997.02px;top:2368.43px;font-size:29.5px;font-weight:normal;font-style:normal;color:#141414;">Antwortmuster I und</div>
<div class="t" style="left:1029.25px;top:2403.53px;font-size:29.5px;font-weight:normal;font-style:normal;color:#141414;">II umgegangen</div>
<div class="t" style="left:1071.95px;top:2437.03px;font-size:29.5px;font-weight:normal;font-style:normal;color:#141414;">werden?</div>
<svg class="abs" style="left:80px;top:2580px" width="250" height="200" viewBox="0 0 1624 1299">
<polygon fill="#2F4FA0" points="597,152 697,120 722,418 672,415"/>
<polygon fill="#FF0000" points="798,200 952,212 857,540 758,517"/>
<polygon fill="#3B72C8" points="1117,182 1227,258 1025,525 942,478"/>
<polygon fill="#254A80" points="1298,297 1365,390 1122,592 1053,518"/>
<polygon fill="#6490D0" points="1027,750 1295,608 1333,717 1056,815"/>
<polygon fill="#3B72C8" points="1113,805 1382,778 1400,895 1138,877"/>
<g stroke="#111" stroke-width="27" fill="none">
<path d="M147,640 L147,880"/>
<path d="M228,652 L425,652 L240,866 L432,866"/>
<path d="M558,880 L558,540 C558,490 580,465 620,465"/><path d="M510,657 L618,657"/>
<path d="M710,455 L710,880"/><circle cx="815" cy="762" r="108"/>
</g><circle cx="147" cy="578" r="20" fill="#111"/>
</svg>
<div class="t" style="left:96.95px;top:2726.23px;font-size:14.5px;font-weight:normal;font-style:normal;color:#141414;transform:scaleX(1.1879);transform-origin:0 0;">Interdisziplinäres Zentrum</div>
<div class="t" style="left:98.24px;top:2746.33px;font-size:14.5px;font-weight:normal;font-style:normal;color:#141414;transform:scaleX(1.1736);transform-origin:0 0;">für Bildungsforschung</div>
<div class="t" style="left:551.45px;top:2633.84px;font-size:40px;font-weight:normal;font-style:normal;color:#000;transform:scaleX(1.0037);transform-origin:0 0;">Tag der Bildungsforschung 2025</div>
<div class="t" style="left:736.99px;top:2687.34px;font-size:40px;font-weight:normal;font-style:normal;color:#000;transform:scaleX(1.0189);transform-origin:0 0;">18.02.2025</div>
<div class="t" style="left:1235.55px;top:2621.45px;font-size:29px;font-weight:normal;font-style:normal;color:#141414;transform:scaleX(0.9247);transform-origin:0 0;">LITERATUR</div>
<div class="r" style="left:1259.9px;top:2656.5px;width:108.10px;height:108.70px;background:#FFFFFF"></div>
<svg class="abs" style="left:1267.64px;top:2664.16px" width="93.35" height="93.35" viewBox="0 0 25 25"><path d="M0,0h1v1h-1zM1,0h1v1h-1zM2,0h1v1h-1zM3,0h1v1h-1zM4,0h1v1h-1zM5,0h1v1h-1zM6,0h1v1h-1zM9,0h1v1h-1zM14,0h1v1h-1zM18,0h1v1h-1zM19,0h1v1h-1zM20,0h1v1h-1zM21,0h1v1h-1zM22,0h1v1h-1zM23,0h1v1h-1zM24,0h1v1h-1zM0,1h1v1h-1zM6,1h1v1h-1zM8,1h1v1h-1zM10,1h1v1h-1zM11,1h1v1h-1zM13,1h1v1h-1zM14,1h1v1h-1zM15,1h1v1h-1zM16,1h1v1h-1zM18,1h1v1h-1zM24,1h1v1h-1zM0,2h1v1h-1zM2,2h1v1h-1zM3,2h1v1h-1zM4,2h1v1h-1zM6,2h1v1h-1zM10,2h1v1h-1zM12,2h1v1h-1zM15,2h1v1h-1zM18,2h1v1h-1zM20,2h1v1h-1zM21,2h1v1h-1zM22,2h1v1h-1zM24,2h1v1h-1zM0,3h1v1h-1zM2,3h1v1h-1zM3,3h1v1h-1zM4,3h1v1h-1zM6,3h1v1h-1zM13,3h1v1h-1zM14,3h1v1h-1zM15,3h1v1h-1zM16,3h1v1h-1zM18,3h1v1h-1zM20,3h1v1h-1zM21,3h1v1h-1zM22,3h1v1h-1zM24,3h1v1h-1zM0,4h1v1h-1zM2,4h1v1h-1zM3,4h1v1h-1zM4,4h1v1h-1zM6,4h1v1h-1zM8,4h1v1h-1zM12,4h1v1h-1zM13,4h1v1h-1zM14,4h1v1h-1zM15,4h1v1h-1zM16,4h1v1h-1zM18,4h1v1h-1zM20,4h1v1h-1zM21,4h1v1h-1zM22,4h1v1h-1zM24,4h1v1h-1zM0,5h1v1h-1zM6,5h1v1h-1zM9,5h1v1h-1zM11,5h1v1h-1zM14,5h1v1h-1zM15,5h1v1h-1zM16,5h1v1h-1zM18,5h1v1h-1zM24,5h1v1h-1zM0,6h1v1h-1zM1,6h1v1h-1zM2,6h1v1h-1zM3,6h1v1h-1zM4,6h1v1h-1zM5,6h1v1h-1zM6,6h1v1h-1zM8,6h1v1h-1zM10,6h1v1h-1zM12,6h1v1h-1zM14,6h1v1h-1zM16,6h1v1h-1zM18,6h1v1h-1zM19,6h1v1h-1zM20,6h1v1h-1zM21,6h1v1h-1zM22,6h1v1h-1zM23,6h1v1h-1zM24,6h1v1h-1zM9,7h1v1h-1zM10,7h1v1h-1zM11,7h1v1h-1zM13,7h1v1h-1zM16,7h1v1h-1zM0,8h1v1h-1zM2,8h1v1h-1zM4,8h1v1h-1zM6,8h1v1h-1zM11,8h1v1h-1zM13,8h1v1h-1zM15,8h1v1h-1zM16,8h1v1h-1zM20,8h1v1h-1zM23,8h1v1h-1zM0,9h1v1h-1zM1,9h1v1h-1zM7,9h1v1h-1zM10,9h1v1h-1zM11,9h1v1h-1zM12,9h1v1h-1zM17,9h1v1h-1zM18,9h1v1h-1zM24,9h1v1h-1zM5,10h1v1h-1zM6,10h1v1h-1zM7,10h1v1h-1zM8,10h1v1h-1zM11,10h1v1h-1zM12,10h1v1h-1zM13,10h1v1h-1zM14,10h1v1h-1zM17,10h1v1h-1zM18,10h1v1h-1zM19,10h1v1h-1zM20,10h1v1h-1zM22,10h1v1h-1zM23,10h1v1h-1zM24,10h1v1h-1zM0,11h1v1h-1zM2,11h1v1h-1zM5,11h1v1h-1zM10,11h1v1h-1zM11,11h1v1h-1zM12,11h1v1h-1zM13,11h1v1h-1zM15,11h1v1h-1zM16,11h1v1h-1zM17,11h1v1h-1zM23,11h1v1h-1zM0,12h1v1h-1zM2,12h1v1h-1zM5,12h1v1h-1zM6,12h1v1h-1zM7,12h1v1h-1zM12,12h1v1h-1zM16,12h1v1h-1zM17,12h1v1h-1zM18,12h1v1h-1zM19,12h1v1h-1zM21,12h1v1h-1zM23,12h1v1h-1zM24,12h1v1h-1zM1,13h1v1h-1zM2,13h1v1h-1zM3,13h1v1h-1zM5,13h1v1h-1zM10,13h1v1h-1zM11,13h1v1h-1zM12,13h1v1h-1zM13,13h1v1h-1zM16,13h1v1h-1zM18,13h1v1h-1zM21,13h1v1h-1zM24,13h1v1h-1zM0,14h1v1h-1zM2,14h1v1h-1zM4,14h1v1h-1zM6,14h1v1h-1zM10,14h1v1h-1zM11,14h1v1h-1zM12,14h1v1h-1zM13,14h1v1h-1zM16,14h1v1h-1zM17,14h1v1h-1zM18,14h1v1h-1zM19,14h1v1h-1zM22,14h1v1h-1zM23,14h1v1h-1zM24,14h1v1h-1zM1,15h1v1h-1zM2,15h1v1h-1zM3,15h1v1h-1zM4,15h1v1h-1zM5,15h1v1h-1zM7,15h1v1h-1zM9,15h1v1h-1zM10,15h1v1h-1zM12,15h1v1h-1zM13,15h1v1h-1zM15,15h1v1h-1zM16,15h1v1h-1zM20,15h1v1h-1zM23,15h1v1h-1zM0,16h1v1h-1zM4,16h1v1h-1zM6,16h1v1h-1zM8,16h1v1h-1zM11,16h1v1h-1zM14,16h1v1h-1zM16,16h1v1h-1zM17,16h1v1h-1zM18,16h1v1h-1zM19,16h1v1h-1zM20,16h1v1h-1zM21,16h1v1h-1zM8,17h1v1h-1zM11,17h1v1h-1zM15,17h1v1h-1zM16,17h1v1h-1zM20,17h1v1h-1zM21,17h1v1h-1zM23,17h1v1h-1zM24,17h1v1h-1zM0,18h1v1h-1zM1,18h1v1h-1zM2,18h1v1h-1zM3,18h1v1h-1zM4,18h1v1h-1zM5,18h1v1h-1zM6,18h1v1h-1zM10,18h1v1h-1zM13,18h1v1h-1zM15,18h1v1h-1zM16,18h1v1h-1zM18,18h1v1h-1zM20,18h1v1h-1zM21,18h1v1h-1zM23,18h1v1h-1zM24,18h1v1h-1zM0,19h1v1h-1zM6,19h1v1h-1zM9,19h1v1h-1zM11,19h1v1h-1zM16,19h1v1h-1zM20,19h1v1h-1zM21,19h1v1h-1zM0,20h1v1h-1zM2,20h1v1h-1zM3,20h1v1h-1zM4,20h1v1h-1zM6,20h1v1h-1zM8,20h1v1h-1zM10,20h1v1h-1zM15,20h1v1h-1zM16,20h1v1h-1zM17,20h1v1h-1zM18,20h1v1h-1zM19,20h1v1h-1zM20,20h1v1h-1zM23,20h1v1h-1zM24,20h1v1h-1zM0,21h1v1h-1zM2,21h1v1h-1zM3,21h1v1h-1zM4,21h1v1h-1zM6,21h1v1h-1zM9,21h1v1h-1zM11,21h1v1h-1zM12,21h1v1h-1zM13,21h1v1h-1zM15,21h1v1h-1zM16,21h1v1h-1zM19,21h1v1h-1zM20,21h1v1h-1zM21,21h1v1h-1zM22,21h1v1h-1zM0,22h1v1h-1zM2,22h1v1h-1zM3,22h1v1h-1zM4,22h1v1h-1zM6,22h1v1h-1zM8,22h1v1h-1zM9,22h1v1h-1zM10,22h1v1h-1zM11,22h1v1h-1zM12,22h1v1h-1zM14,22h1v1h-1zM15,22h1v1h-1zM20,22h1v1h-1zM24,22h1v1h-1zM0,23h1v1h-1zM6,23h1v1h-1zM12,23h1v1h-1zM13,23h1v1h-1zM14,23h1v1h-1zM15,23h1v1h-1zM16,23h1v1h-1zM20,23h1v1h-1zM21,23h1v1h-1zM23,23h1v1h-1zM0,24h1v1h-1zM1,24h1v1h-1zM2,24h1v1h-1zM3,24h1v1h-1zM4,24h1v1h-1zM5,24h1v1h-1zM6,24h1v1h-1zM8,24h1v1h-1zM11,24h1v1h-1zM14,24h1v1h-1zM16,24h1v1h-1zM17,24h1v1h-1zM18,24h1v1h-1zM19,24h1v1h-1zM23,24h1v1h-1zM24,24h1v1h-1z" fill="#000"/></svg>
<svg class="abs" style="left:1420px;top:2335px" width="110" height="110" viewBox="0 0 1624 1624">
<defs><clipPath id="pc"><circle cx="791" cy="790" r="729"/></clipPath>
<radialGradient id="pbg" cx="0.45" cy="0.45" r="0.6"><stop offset="0" stop-color="#E8E8E6"/><stop offset="1" stop-color="#DADAD8"/></radialGradient></defs>
<g clip-path="url(#pc)">
<rect width="1624" height="1624" fill="url(#pbg)"/>
<path d="M810,150 C640,150 540,230 500,380 C470,520 440,700 380,860 C320,1020 320,1200 370,1350 C400,1450 420,1560 440,1624 L1420,1624 C1390,1450 1360,1250 1330,1050 C1300,850 1260,600 1180,400 C1120,250 990,150 810,150 Z" fill="#4B3026"/>
<path d="M560,1120 C600,1250 620,1400 600,1624 L1080,1624 C1050,1450 1040,1300 1060,1150 Z" fill="#DDA58E"/>
<path d="M812,290 C640,290 520,380 500,600 C485,780 510,950 580,1070 C650,1180 740,1215 815,1215 C890,1215 990,1180 1060,1060 C1130,940 1150,760 1130,590 C1100,380 990,290 812,290 Z" fill="#E6B59D"/>
<path d="M812,290 C760,300 700,330 640,380 L600,300 Z" fill="#4B3026"/>
<path d="M545,625 C600,595 690,590 750,612" stroke="#6A4A3C" stroke-width="20" fill="none" stroke-linecap="round"/>
<path d="M880,610 C950,590 1030,595 1080,622" stroke="#6A4A3C" stroke-width="20" fill="none" stroke-linecap="round"/>
<ellipse cx="672" cy="705" rx="62" ry="32" fill="#F2E6E0"/><circle cx="672" cy="705" r="28" fill="#5E7282"/>
<ellipse cx="968" cy="700" rx="62" ry="32" fill="#F2E6E0"/><circle cx="968" cy="700" r="28" fill="#5E7282"/>
<path d="M780,760 C770,830 750,880 790,905 C810,915 840,912 855,900" stroke="#C98F78" stroke-width="14" fill="none"/>
<path d="M705,1020 C770,1000 860,998 935,1012 C870,1065 770,1065 705,1020 Z" fill="#C97C74"/>
<path d="M1040,1400 C1060,1380 1100,1390 1110,1430 L1100,1624 L1030,1624 Z" fill="#2A3A40"/>
</g></svg>
<div class="t" style="left:1543.16px;top:2339.70px;font-size:29.3px;font-weight:normal;font-style:normal;color:#111;">Dana Eilers, Universität</div>
<div class="t" style="left:1543.16px;top:2374.20px;font-size:29.3px;font-weight:normal;font-style:normal;color:#111;">Duisburg-Essen</div>
<div class="t" style="left:1544.33px;top:2408.80px;font-size:29.3px;font-weight:normal;font-style:normal;color:#111;">dana.eilers@uni-due.de</div>
<div class="t" style="left:1499.29px;top:2496.80px;font-size:29.3px;font-weight:normal;font-style:normal;color:#141414;transform:scaleX(0.9861);transform-origin:0 0;">ResearchGate Profil:</div>
<div class="r" style="left:1790.3px;top:2463px;width:109.00px;height:109.40px;background:#FFFFFF"></div>
<svg class="abs" style="left:1793.25px;top:2466.06px" width="102.92" height="102.92" viewBox="0 0 29 29"><path d="M0,0h1v1h-1zM1,0h1v1h-1zM2,0h1v1h-1zM3,0h1v1h-1zM4,0h1v1h-1zM5,0h1v1h-1zM6,0h1v1h-1zM10,0h1v1h-1zM12,0h1v1h-1zM13,0h1v1h-1zM19,0h1v1h-1zM20,0h1v1h-1zM22,0h1v1h-1zM23,0h1v1h-1zM24,0h1v1h-1zM25,0h1v1h-1zM26,0h1v1h-1zM27,0h1v1h-1zM28,0h1v1h-1zM0,1h1v1h-1zM6,1h1v1h-1zM8,1h1v1h-1zM10,1h1v1h-1zM13,1h1v1h-1zM14,1h1v1h-1zM15,1h1v1h-1zM16,1h1v1h-1zM20,1h1v1h-1zM22,1h1v1h-1zM28,1h1v1h-1zM0,2h1v1h-1zM2,2h1v1h-1zM3,2h1v1h-1zM4,2h1v1h-1zM6,2h1v1h-1zM12,2h1v1h-1zM14,2h1v1h-1zM15,2h1v1h-1zM18,2h1v1h-1zM22,2h1v1h-1zM24,2h1v1h-1zM25,2h1v1h-1zM26,2h1v1h-1zM28,2h1v1h-1zM0,3h1v1h-1zM2,3h1v1h-1zM3,3h1v1h-1zM4,3h1v1h-1zM6,3h1v1h-1zM8,3h1v1h-1zM9,3h1v1h-1zM10,3h1v1h-1zM12,3h1v1h-1zM14,3h1v1h-1zM15,3h1v1h-1zM17,3h1v1h-1zM22,3h1v1h-1zM24,3h1v1h-1zM25,3h1v1h-1zM26,3h1v1h-1zM28,3h1v1h-1zM0,4h1v1h-1zM2,4h1v1h-1zM3,4h1v1h-1zM4,4h1v1h-1zM6,4h1v1h-1zM9,4h1v1h-1zM16,4h1v1h-1zM18,4h1v1h-1zM19,4h1v1h-1zM20,4h1v1h-1zM22,4h1v1h-1zM24,4h1v1h-1zM25,4h1v1h-1zM26,4h1v1h-1zM28,4h1v1h-1zM0,5h1v1h-1zM6,5h1v1h-1zM8,5h1v1h-1zM9,5h1v1h-1zM11,5h1v1h-1zM12,5h1v1h-1zM14,5h1v1h-1zM15,5h1v1h-1zM20,5h1v1h-1zM22,5h1v1h-1zM28,5h1v1h-1zM0,6h1v1h-1zM1,6h1v1h-1zM2,6h1v1h-1zM3,6h1v1h-1zM4,6h1v1h-1zM5,6h1v1h-1zM6,6h1v1h-1zM8,6h1v1h-1zM10,6h1v1h-1zM12,6h1v1h-1zM14,6h1v1h-1zM16,6h1v1h-1zM18,6h1v1h-1zM20,6h1v1h-1zM22,6h1v1h-1zM23,6h1v1h-1zM24,6h1v1h-1zM25,6h1v1h-1zM26,6h1v1h-1zM27,6h1v1h-1zM28,6h1v1h-1zM9,7h1v1h-1zM10,7h1v1h-1zM11,7h1v1h-1zM15,7h1v1h-1zM16,7h1v1h-1zM19,7h1v1h-1zM20,7h1v1h-1zM0,8h1v1h-1zM1,8h1v1h-1zM2,8h1v1h-1zM3,8h1v1h-1zM4,8h1v1h-1zM6,8h1v1h-1zM7,8h1v1h-1zM8,8h1v1h-1zM9,8h1v1h-1zM11,8h1v1h-1zM12,8h1v1h-1zM13,8h1v1h-1zM14,8h1v1h-1zM17,8h1v1h-1zM18,8h1v1h-1zM21,8h1v1h-1zM23,8h1v1h-1zM25,8h1v1h-1zM27,8h1v1h-1zM0,9h1v1h-1zM1,9h1v1h-1zM2,9h1v1h-1zM3,9h1v1h-1zM4,9h1v1h-1zM10,9h1v1h-1zM12,9h1v1h-1zM16,9h1v1h-1zM17,9h1v1h-1zM18,9h1v1h-1zM19,9h1v1h-1zM20,9h1v1h-1zM22,9h1v1h-1zM23,9h1v1h-1zM24,9h1v1h-1zM28,9h1v1h-1zM0,10h1v1h-1zM1,10h1v1h-1zM3,10h1v1h-1zM6,10h1v1h-1zM8,10h1v1h-1zM10,10h1v1h-1zM15,10h1v1h-1zM16,10h1v1h-1zM17,10h1v1h-1zM21,10h1v1h-1zM0,11h1v1h-1zM2,11h1v1h-1zM3,11h1v1h-1zM4,11h1v1h-1zM5,11h1v1h-1zM7,11h1v1h-1zM8,11h1v1h-1zM11,11h1v1h-1zM12,11h1v1h-1zM14,11h1v1h-1zM15,11h1v1h-1zM18,11h1v1h-1zM21,11h1v1h-1zM22,11h1v1h-1zM23,11h1v1h-1zM25,11h1v1h-1zM27,11h1v1h-1zM0,12h1v1h-1zM2,12h1v1h-1zM3,12h1v1h-1zM6,12h1v1h-1zM8,12h1v1h-1zM9,12h1v1h-1zM10,12h1v1h-1zM13,12h1v1h-1zM14,12h1v1h-1zM17,12h1v1h-1zM19,12h1v1h-1zM25,12h1v1h-1zM26,12h1v1h-1zM0,13h1v1h-1zM3,13h1v1h-1zM5,13h1v1h-1zM8,13h1v1h-1zM9,13h1v1h-1zM11,13h1v1h-1zM13,13h1v1h-1zM16,13h1v1h-1zM17,13h1v1h-1zM18,13h1v1h-1zM19,13h1v1h-1zM20,13h1v1h-1zM21,13h1v1h-1zM22,13h1v1h-1zM24,13h1v1h-1zM28,13h1v1h-1zM0,14h1v1h-1zM1,14h1v1h-1zM3,14h1v1h-1zM4,14h1v1h-1zM5,14h1v1h-1zM6,14h1v1h-1zM8,14h1v1h-1zM9,14h1v1h-1zM12,14h1v1h-1zM13,14h1v1h-1zM14,14h1v1h-1zM15,14h1v1h-1zM17,14h1v1h-1zM20,14h1v1h-1zM23,14h1v1h-1zM25,14h1v1h-1zM26,14h1v1h-1zM2,15h1v1h-1zM4,15h1v1h-1zM5,15h1v1h-1zM10,15h1v1h-1zM11,15h1v1h-1zM12,15h1v1h-1zM16,15h1v1h-1zM18,15h1v1h-1zM19,15h1v1h-1zM23,15h1v1h-1zM24,15h1v1h-1zM27,15h1v1h-1zM1,16h1v1h-1zM4,16h1v1h-1zM5,16h1v1h-1zM6,16h1v1h-1zM7,16h1v1h-1zM10,16h1v1h-1zM13,16h1v1h-1zM14,16h1v1h-1zM15,16h1v1h-1zM17,16h1v1h-1zM23,16h1v1h-1zM25,16h1v1h-1zM26,16h1v1h-1zM0,17h1v1h-1zM1,17h1v1h-1zM7,17h1v1h-1zM8,17h1v1h-1zM11,17h1v1h-1zM16,17h1v1h-1zM18,17h1v1h-1zM19,17h1v1h-1zM20,17h1v1h-1zM22,17h1v1h-1zM23,17h1v1h-1zM24,17h1v1h-1zM26,17h1v1h-1zM28,17h1v1h-1zM0,18h1v1h-1zM2,18h1v1h-1zM5,18h1v1h-1zM6,18h1v1h-1zM10,18h1v1h-1zM15,18h1v1h-1zM16,18h1v1h-1zM21,18h1v1h-1zM23,18h1v1h-1zM26,18h1v1h-1zM0,19h1v1h-1zM2,19h1v1h-1zM5,19h1v1h-1zM8,19h1v1h-1zM10,19h1v1h-1zM14,19h1v1h-1zM16,19h1v1h-1zM19,19h1v1h-1zM22,19h1v1h-1zM23,19h1v1h-1zM24,19h1v1h-1zM27,19h1v1h-1zM0,20h1v1h-1zM3,20h1v1h-1zM5,20h1v1h-1zM6,20h1v1h-1zM7,20h1v1h-1zM8,20h1v1h-1zM9,20h1v1h-1zM10,20h1v1h-1zM12,20h1v1h-1zM13,20h1v1h-1zM17,20h1v1h-1zM20,20h1v1h-1zM21,20h1v1h-1zM22,20h1v1h-1zM23,20h1v1h-1zM24,20h1v1h-1zM26,20h1v1h-1zM27,20h1v1h-1zM28,20h1v1h-1zM8,21h1v1h-1zM11,21h1v1h-1zM13,21h1v1h-1zM16,21h1v1h-1zM19,21h1v1h-1zM20,21h1v1h-1zM24,21h1v1h-1zM25,21h1v1h-1zM26,21h1v1h-1zM27,21h1v1h-1zM28,21h1v1h-1zM0,22h1v1h-1zM1,22h1v1h-1zM2,22h1v1h-1zM3,22h1v1h-1zM4,22h1v1h-1zM5,22h1v1h-1zM6,22h1v1h-1zM8,22h1v1h-1zM12,22h1v1h-1zM14,22h1v1h-1zM15,22h1v1h-1zM19,22h1v1h-1zM20,22h1v1h-1zM22,22h1v1h-1zM24,22h1v1h-1zM0,23h1v1h-1zM6,23h1v1h-1zM9,23h1v1h-1zM14,23h1v1h-1zM18,23h1v1h-1zM19,23h1v1h-1zM20,23h1v1h-1zM24,23h1v1h-1zM27,23h1v1h-1zM0,24h1v1h-1zM2,24h1v1h-1zM3,24h1v1h-1zM4,24h1v1h-1zM6,24h1v1h-1zM8,24h1v1h-1zM11,24h1v1h-1zM12,24h1v1h-1zM14,24h1v1h-1zM15,24h1v1h-1zM16,24h1v1h-1zM17,24h1v1h-1zM18,24h1v1h-1zM20,24h1v1h-1zM21,24h1v1h-1zM22,24h1v1h-1zM23,24h1v1h-1zM24,24h1v1h-1zM26,24h1v1h-1zM27,24h1v1h-1zM0,25h1v1h-1zM2,25h1v1h-1zM3,25h1v1h-1zM4,25h1v1h-1zM6,25h1v1h-1zM8,25h1v1h-1zM9,25h1v1h-1zM11,25h1v1h-1zM16,25h1v1h-1zM17,25h1v1h-1zM18,25h1v1h-1zM19,25h1v1h-1zM23,25h1v1h-1zM25,25h1v1h-1zM26,25h1v1h-1zM28,25h1v1h-1zM0,26h1v1h-1zM2,26h1v1h-1zM3,26h1v1h-1zM4,26h1v1h-1zM6,26h1v1h-1zM8,26h1v1h-1zM14,26h1v1h-1zM15,26h1v1h-1zM17,26h1v1h-1zM21,26h1v1h-1zM22,26h1v1h-1zM23,26h1v1h-1zM24,26h1v1h-1zM25,26h1v1h-1zM26,26h1v1h-1zM27,26h1v1h-1zM0,27h1v1h-1zM6,27h1v1h-1zM8,27h1v1h-1zM10,27h1v1h-1zM12,27h1v1h-1zM14,27h1v1h-1zM15,27h1v1h-1zM20,27h1v1h-1zM23,27h1v1h-1zM25,27h1v1h-1zM27,27h1v1h-1zM0,28h1v1h-1zM1,28h1v1h-1zM2,28h1v1h-1zM3,28h1v1h-1zM4,28h1v1h-1zM5,28h1v1h-1zM6,28h1v1h-1zM8,28h1v1h-1zM10,28h1v1h-1zM11,28h1v1h-1zM12,28h1v1h-1zM13,28h1v1h-1zM14,28h1v1h-1zM15,28h1v1h-1zM16,28h1v1h-1zM17,28h1v1h-1zM19,28h1v1h-1zM23,28h1v1h-1zM24,28h1v1h-1zM25,28h1v1h-1zM26,28h1v1h-1z" fill="#000"/></svg>
<div class="r" style="left:1448.5px;top:2598.5px;width:426.50px;height:105.60px;background:#004C93"></div>
<div class="t" style="left:1463.67px;top:2610.78px;font-size:22px;font-weight:bold;color:#fff;-webkit-text-stroke:0.7px #fff;transform:scaleX(0.8);transform-origin:0 0">U</div>
<div class="t" style="left:1478.42px;top:2610.78px;font-size:22px;font-weight:bold;color:#fff;-webkit-text-stroke:0.7px #fff;transform:scaleX(0.8);transform-origin:0 0">N</div>
<div class="t" style="left:1493.85px;top:2610.78px;font-size:22px;font-weight:bold;color:#fff;-webkit-text-stroke:0.7px #fff;transform:scaleX(0.8);transform-origin:0 0">I</div>
<div class="t" style="left:1502.17px;top:2610.78px;font-size:22px;font-weight:bold;color:#fff;-webkit-text-stroke:0.7px #fff;transform:scaleX(0.8);transform-origin:0 0">V</div>
<div class="t" style="left:1516.11px;top:2610.78px;font-size:22px;font-weight:bold;color:#fff;-webkit-text-stroke:0.7px #fff;transform:scaleX(0.8);transform-origin:0 0">E</div>
<div class="t" style="left:1529.24px;top:2610.78px;font-size:22px;font-weight:bold;color:#fff;-webkit-text-stroke:0.7px #fff;transform:scaleX(0.8);transform-origin:0 0">R</div>
<div class="t" style="left:1544.30px;top:2610.78px;font-size:22px;font-weight:bold;color:#fff;-webkit-text-stroke:0.7px #fff;transform:scaleX(0.8);transform-origin:0 0">S</div>
<div class="t" style="left:1558.81px;top:2610.78px;font-size:22px;font-weight:bold;color:#fff;-webkit-text-stroke:0.7px #fff;transform:scaleX(0.8);transform-origin:0 0">I</div>
<div class="t" style="left:1567.15px;top:2610.78px;font-size:22px;font-weight:bold;color:#fff;-webkit-text-stroke:0.7px #fff;transform:scaleX(0.8);transform-origin:0 0">T</div>
<div class="t" style="left:1581.24px;top:2610.78px;font-size:22px;font-weight:bold;color:#fff;-webkit-text-stroke:0.7px #fff;transform:scaleX(0.8);transform-origin:0 0">Ä</div>
<div class="t" style="left:1597.26px;top:2610.78px;font-size:22px;font-weight:bold;color:#fff;-webkit-text-stroke:0.7px #fff;transform:scaleX(0.8);transform-origin:0 0">T</div>
<div class="t" style="left:1464.02px;top:2637.98px;font-size:30.5px;font-weight:bold;color:#fff;-webkit-text-stroke:0.7px #fff;transform:scaleX(0.72);transform-origin:0 0">D</div>
<div class="t" style="left:1491.69px;top:2637.98px;font-size:30.5px;font-weight:bold;color:#fff;-webkit-text-stroke:0.7px #fff;transform:scaleX(0.72);transform-origin:0 0">U</div>
<div class="t" style="left:1521.98px;top:2637.98px;font-size:30.5px;font-weight:bold;color:#fff;-webkit-text-stroke:0.7px #fff;transform:scaleX(0.72);transform-origin:0 0">I</div>
<div class="t" style="left:1540.45px;top:2637.98px;font-size:30.5px;font-weight:bold;color:#fff;-webkit-text-stroke:0.7px #fff;transform:scaleX(0.72);transform-origin:0 0">S</div>
<div class="t" style="left:1576.47px;top:2637.98px;font-size:30.5px;font-weight:bold;color:#fff;-webkit-text-stroke:0.7px #fff;transform:scaleX(0.72);transform-origin:0 0">B</div>
<div class="t" style="left:1607.19px;top:2637.98px;font-size:30.5px;font-weight:bold;color:#fff;-webkit-text-stroke:0.7px #fff;transform:scaleX(0.72);transform-origin:0 0">U</div>
<div class="t" style="left:1638.60px;top:2637.98px;font-size:30.5px;font-weight:bold;color:#fff;-webkit-text-stroke:0.7px #fff;transform:scaleX(0.72);transform-origin:0 0">R</div>
<div class="t" style="left:1668.41px;top:2637.98px;font-size:30.5px;font-weight:bold;color:#fff;-webkit-text-stroke:0.7px #fff;transform:scaleX(0.72);transform-origin:0 0">G</div>
<div class="t" style="left:1477.67px;top:2658.88px;font-size:30.5px;font-weight:bold;color:#fff;-webkit-text-stroke:0.7px #fff;transform:scaleX(0.72);transform-origin:0 0">E</div>
<div class="t" style="left:1508.05px;top:2658.88px;font-size:30.5px;font-weight:bold;color:#fff;-webkit-text-stroke:0.7px #fff;transform:scaleX(0.72);transform-origin:0 0">S</div>
<div class="t" style="left:1535.75px;top:2658.88px;font-size:30.5px;font-weight:bold;color:#fff;-webkit-text-stroke:0.7px #fff;transform:scaleX(0.72);transform-origin:0 0">S</div>
<div class="t" style="left:1561.57px;top:2658.88px;font-size:30.5px;font-weight:bold;color:#fff;-webkit-text-stroke:0.7px #fff;transform:scaleX(0.72);transform-origin:0 0">E</div>
<div class="t" style="left:1592.89px;top:2658.88px;font-size:30.5px;font-weight:bold;color:#fff;-webkit-text-stroke:0.7px #fff;transform:scaleX(0.72);transform-origin:0 0">N</div>
<div class="t" style="left:1462px;top:2725.03px;font-size:36px;font-style:italic;color:#004C93;transform:scaleX(0.905);transform-origin:0 0"><b>Offen</b> im Denken</div>
</body></html>
